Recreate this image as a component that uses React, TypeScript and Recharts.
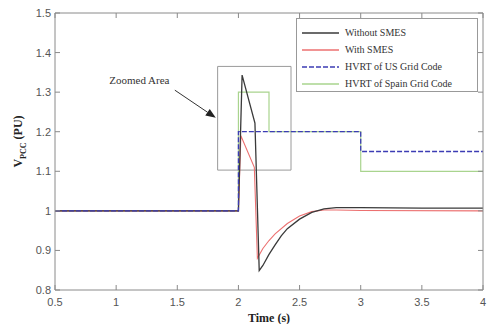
import React from "react";
import {
  LineChart,
  Line,
  XAxis,
  YAxis,
  ReferenceArea,
  ReferenceLine,
  ReferenceDot,
} from "recharts";

// time (s) / voltage (pu)
const T_WITHOUT = [0.5, 2.0, 2.03, 2.135, 2.17, 2.2, 2.25, 2.3, 2.35, 2.4, 2.5, 2.6, 2.7, 2.8, 3.0, 3.5, 4.0];
const V_WITHOUT = [1.0, 1.0, 1.343, 1.222, 0.849, 0.862, 0.89, 0.914, 0.937, 0.955, 0.979, 0.996, 1.005, 1.008, 1.008, 1.007, 1.007];

const T_WITH = [0.5, 2.0, 2.02, 2.13, 2.155, 2.2, 2.25, 2.3, 2.4, 2.5, 2.6, 2.7, 2.8, 3.0, 4.0];
const V_WITH = [1.0, 1.0, 1.19, 1.11, 0.88, 0.905, 0.925, 0.942, 0.968, 0.987, 0.998, 1.002, 1.002, 1.001, 1.0];

const T_US = [0.5, 2.0, 2.0, 3.0, 3.0, 4.0];
const V_US = [1.0, 1.0, 1.2, 1.2, 1.15, 1.15];

const T_SPAIN = [0.5, 2.0, 2.0, 2.25, 2.25, 3.0, 3.0, 4.0];
const V_SPAIN = [1.0, 1.0, 1.3, 1.3, 1.2, 1.2, 1.1, 1.1];

const X_TICKS = [0.5, 1, 1.5, 2, 2.5, 3, 3.5, 4];
const Y_TICKS = [0.8, 0.9, 1, 1.1, 1.2, 1.3, 1.4, 1.5];
const X_LABELS = ["0.5", "1", "1.5", "2", "2.5", "3", "3.5", "4"];
const Y_LABELS = ["0.8", "0.9", "1", "1.1", "1.2", "1.3", "1.4", "1.5"];

const SERIES_NAMES = ["Without SMES", "With SMES", "HVRT of US Grid Code", "HVRT of Spain Grid Code"];
const COLORS = ["#3a3a3a", "#ec7070", "#3c3cb4", "#a9d48e"];

// zoom box (time, pu) and the annotation arrow
const ZOOM_X = [1.83, 2.43];
const ZOOM_Y = [1.103, 1.365];
const ARROW = [
  { x: 1.48, y: 1.305 },
  { x: 1.815, y: 1.235 },
];
const NOTE_POS = { x: 1.19, y: 1.33 };

const zip = (ts: number[], vs: number[]) => ts.map((t, i) => ({ t, v: vs[i] }));
const withoutData = zip(T_WITHOUT, V_WITHOUT);
const withData = zip(T_WITH, V_WITH);
const usData = zip(T_US, V_US);
const spainData = zip(T_SPAIN, V_SPAIN);

const AXIS = "#8a8a8a";
const TICK_FONT = "'Liberation Sans', Arial, sans-serif";
const SERIF = "'Liberation Serif', 'Times New Roman', serif";

const BottomTick = (props: any) => {
  const { x, y, index } = props;
  return (
    <g>
      <line x1={x} y1={y} x2={x} y2={y - 5} stroke={AXIS} />
      <text x={x} y={y + 16} textAnchor="middle" fontSize={11} fill="#555" fontFamily={TICK_FONT}>
        {X_LABELS[index]}
      </text>
    </g>
  );
};

const TopTick = (props: any) => {
  const { x, y } = props;
  return <line x1={x} y1={y} x2={x} y2={y + 5} stroke={AXIS} />;
};

const LeftTick = (props: any) => {
  const { x, y, index } = props;
  return (
    <g>
      <line x1={x} y1={y} x2={x + 5} y2={y} stroke={AXIS} />
      <text x={x - 4} y={y + 4} textAnchor="end" fontSize={11} fill="#555" fontFamily={TICK_FONT}>
        {Y_LABELS[index]}
      </text>
    </g>
  );
};

const RightTick = (props: any) => {
  const { x, y } = props;
  return <line x1={x} y1={y} x2={x - 5} y2={y} stroke={AXIS} />;
};

const ArrowShape = (props: any) => {
  const { x1, y1, x2, y2 } = props;
  if (x1 == null) return null;
  const ang = Math.atan2(y2 - y1, x2 - x1);
  const len = 10;
  const w = 4;
  const bx = x2 - len * Math.cos(ang);
  const by = y2 - len * Math.sin(ang);
  const px = -Math.sin(ang) * w;
  const py = Math.cos(ang) * w;
  return (
    <g>
      <line x1={x1} y1={y1} x2={bx} y2={by} stroke="#333" strokeWidth={1} />
      <polygon points={`${x2},${y2} ${bx + px},${by + py} ${bx - px},${by - py}`} fill="#222" />
    </g>
  );
};

const LegendBox = () => (
  <div
    style={{
      position: "absolute",
      left: 296,
      top: 18,
      border: "1px solid #999",
      background: "#fff",
      width: 182,
      height: 74,
      boxSizing: "border-box",
      padding: "5px 0 0 4px",
      fontFamily: SERIF,
      fontSize: 10,
      color: "#333",
    }}
  >
    {SERIES_NAMES.map((name, i) => (
      <div key={name} style={{ display: "flex", alignItems: "center", height: 17 }}>
        <svg width={40} height={6} style={{ marginRight: 4 }}>
          <line
            x1={1}
            y1={3}
            x2={38}
            y2={3}
            stroke={COLORS[i]}
            strokeWidth={1.3}
            strokeDasharray={i === 2 ? "5 2" : undefined}
          />
        </svg>
        <span>{name}</span>
      </div>
    ))}
  </div>
);

export default function App() {
  return (
    <div style={{ position: "absolute", left: 0, top: 0, width: 488, height: 324, background: "#fff" }}>
      <LineChart width={488} height={324} margin={{ top: 0, right: 0, bottom: 0, left: 0 }}>
        <XAxis
          xAxisId="b"
          dataKey="t"
          type="number"
          domain={[0.5, 4]}
          ticks={X_TICKS}
          allowDataOverflow
          height={34}
          tickSize={0}
          tickMargin={0}
          stroke={AXIS}
          tick={<BottomTick />}
          label={{
            value: "Time (s)",
            position: "insideBottom",
            offset: 2,
            style: { fontFamily: SERIF, fontWeight: "bold", fontSize: 12, fill: "#222" },
          }}
        />
        <XAxis
          xAxisId="t"
          orientation="top"
          dataKey="t"
          type="number"
          domain={[0.5, 4]}
          ticks={X_TICKS}
          allowDataOverflow
          height={13}
          tickSize={0}
          tickMargin={0}
          stroke={AXIS}
          tick={<TopTick />}
        />
        <YAxis
          yAxisId="l"
          type="number"
          domain={[0.8, 1.5]}
          ticks={Y_TICKS}
          allowDataOverflow
          width={55}
          tickSize={0}
          tickMargin={0}
          stroke={AXIS}
          tick={<LeftTick />}
          label={(p: any) => {
            const vb = p.viewBox || { x: 0, y: 13, width: 55, height: 277 };
            const cx = 22;
            const cy = vb.y + vb.height / 2 - 10;
            return (
              <text
                transform={`rotate(-90, ${cx}, ${cy})`}
                x={cx}
                y={cy}
                textAnchor="middle"
                fontFamily={SERIF}
                fontWeight="bold"
                fontSize={12}
                fill="#222"
              >
                V<tspan fontSize={8} dy={4}>PCC</tspan>
                <tspan dy={-4}> (PU)</tspan>
              </text>
            );
          }}
        />
        <YAxis
          yAxisId="r"
          orientation="right"
          type="number"
          domain={[0.8, 1.5]}
          ticks={Y_TICKS}
          allowDataOverflow
          width={5}
          tickSize={0}
          tickMargin={0}
          stroke={AXIS}
          tick={<RightTick />}
        />

        <ReferenceArea
          xAxisId="b"
          yAxisId="l"
          x1={ZOOM_X[0]}
          x2={ZOOM_X[1]}
          y1={ZOOM_Y[0]}
          y2={ZOOM_Y[1]}
          fill="none"
          fillOpacity={0}
          stroke="#9a9a9a"
          strokeWidth={1}
        />

        <Line xAxisId="b" yAxisId="l" data={spainData} dataKey="v" name={SERIES_NAMES[3]} stroke={COLORS[3]} strokeWidth={1.2} dot={false} isAnimationActive={false} />
        <Line xAxisId="b" yAxisId="l" data={withData} dataKey="v" name={SERIES_NAMES[1]} stroke={COLORS[1]} strokeWidth={1.1} dot={false} isAnimationActive={false} />
        <Line xAxisId="b" yAxisId="l" data={withoutData} dataKey="v" name={SERIES_NAMES[0]} stroke={COLORS[0]} strokeWidth={1.3} dot={false} isAnimationActive={false} />
        <Line xAxisId="b" yAxisId="l" data={usData} dataKey="v" name={SERIES_NAMES[2]} stroke={COLORS[2]} strokeWidth={1.3} strokeDasharray="5 2" dot={false} isAnimationActive={false} />

        <ReferenceLine
          xAxisId="b"
          yAxisId="l"
          segment={ARROW}
          stroke="#333"
          shape={<ArrowShape />}
          ifOverflow="visible"
        />
        <ReferenceDot
          xAxisId="b"
          yAxisId="l"
          x={NOTE_POS.x}
          y={NOTE_POS.y}
          r={0}
          fill="none"
          stroke="none"
          label={{
            value: "Zoomed Area",
            position: "center",
            style: { fontFamily: SERIF, fontSize: 11, fill: "#333" },
          }}
        />
      </LineChart>
      <LegendBox />
    </div>
  );
}
